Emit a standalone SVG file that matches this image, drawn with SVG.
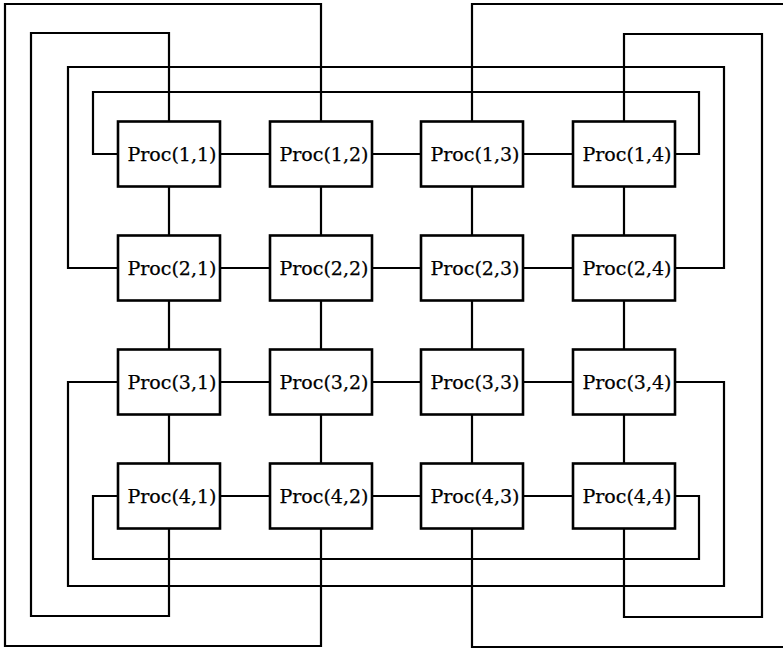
<svg xmlns="http://www.w3.org/2000/svg" width="783" height="650" viewBox="0 0 783 650">
  <style>
    .wire { fill: none; stroke: #000; stroke-width: 2.2; stroke-linejoin: miter; }
    .box { fill: #fff; stroke: #000; stroke-width: 2.6; }
    .lbl { font-family: "DejaVu Serif", "Liberation Serif", serif; font-size: 19px; fill: #000; stroke: #000; stroke-width: 0.25; text-anchor: middle; }
  </style>
  <rect width="783" height="650" fill="#fff"/>

  <!-- torus interconnect: mesh links plus wrap-around links -->
  <g id="connectors" class="wire">
    <!-- row links -->
    <path d="M220 154H269M372 154H420M524 154H572"/>
    <path d="M220 268H269M372 268H420M524 268H572"/>
    <path d="M220 382H269M372 382H420M524 382H572"/>
    <path d="M220 496H269M372 496H420M524 496H572"/>
    <!-- column links -->
    <path d="M169 186V235M169 300V349M169 414V463"/>
    <path d="M321 186V235M321 300V349M321 414V463"/>
    <path d="M472 186V235M472 300V349M472 414V463"/>
    <path d="M624 186V235M624 300V349M624 414V463"/>
    <!-- row wrap-arounds -->
    <path d="M118 154H93V92H699V154H676"/>
    <path d="M118 268H68V67H724V268H676"/>
    <path d="M118 382H68V586H724V382H676"/>
    <path d="M118 496H93V559H699V496H676"/>
    <!-- column wrap-arounds -->
    <path d="M169 121V33H31V616H169V529"/>
    <path d="M321 121V4H5V646H321V529"/>
    <path d="M472 121V4H790V647H472V529"/>
    <path d="M624 121V34H762V617H624V529"/>
  </g>

  <g id="proc-1-1"><rect class="box" x="118" y="121.5" width="102" height="65"/><text class="lbl" x="172" y="160.5">Proc(1,1)</text></g>
  <g id="proc-1-2"><rect class="box" x="270" y="121.5" width="102" height="65"/><text class="lbl" x="324" y="160.5">Proc(1,2)</text></g>
  <g id="proc-1-3"><rect class="box" x="421" y="121.5" width="102" height="65"/><text class="lbl" x="475" y="160.5">Proc(1,3)</text></g>
  <g id="proc-1-4"><rect class="box" x="573" y="121.5" width="102" height="65"/><text class="lbl" x="627" y="160.5">Proc(1,4)</text></g>

  <g id="proc-2-1"><rect class="box" x="118" y="235.5" width="102" height="65"/><text class="lbl" x="172" y="274.5">Proc(2,1)</text></g>
  <g id="proc-2-2"><rect class="box" x="270" y="235.5" width="102" height="65"/><text class="lbl" x="324" y="274.5">Proc(2,2)</text></g>
  <g id="proc-2-3"><rect class="box" x="421" y="235.5" width="102" height="65"/><text class="lbl" x="475" y="274.5">Proc(2,3)</text></g>
  <g id="proc-2-4"><rect class="box" x="573" y="235.5" width="102" height="65"/><text class="lbl" x="627" y="274.5">Proc(2,4)</text></g>

  <g id="proc-3-1"><rect class="box" x="118" y="349.5" width="102" height="65"/><text class="lbl" x="172" y="388.5">Proc(3,1)</text></g>
  <g id="proc-3-2"><rect class="box" x="270" y="349.5" width="102" height="65"/><text class="lbl" x="324" y="388.5">Proc(3,2)</text></g>
  <g id="proc-3-3"><rect class="box" x="421" y="349.5" width="102" height="65"/><text class="lbl" x="475" y="388.5">Proc(3,3)</text></g>
  <g id="proc-3-4"><rect class="box" x="573" y="349.5" width="102" height="65"/><text class="lbl" x="627" y="388.5">Proc(3,4)</text></g>

  <g id="proc-4-1"><rect class="box" x="118" y="463.5" width="102" height="65"/><text class="lbl" x="172" y="502.5">Proc(4,1)</text></g>
  <g id="proc-4-2"><rect class="box" x="270" y="463.5" width="102" height="65"/><text class="lbl" x="324" y="502.5">Proc(4,2)</text></g>
  <g id="proc-4-3"><rect class="box" x="421" y="463.5" width="102" height="65"/><text class="lbl" x="475" y="502.5">Proc(4,3)</text></g>
  <g id="proc-4-4"><rect class="box" x="573" y="463.5" width="102" height="65"/><text class="lbl" x="627" y="502.5">Proc(4,4)</text></g>
</svg>
